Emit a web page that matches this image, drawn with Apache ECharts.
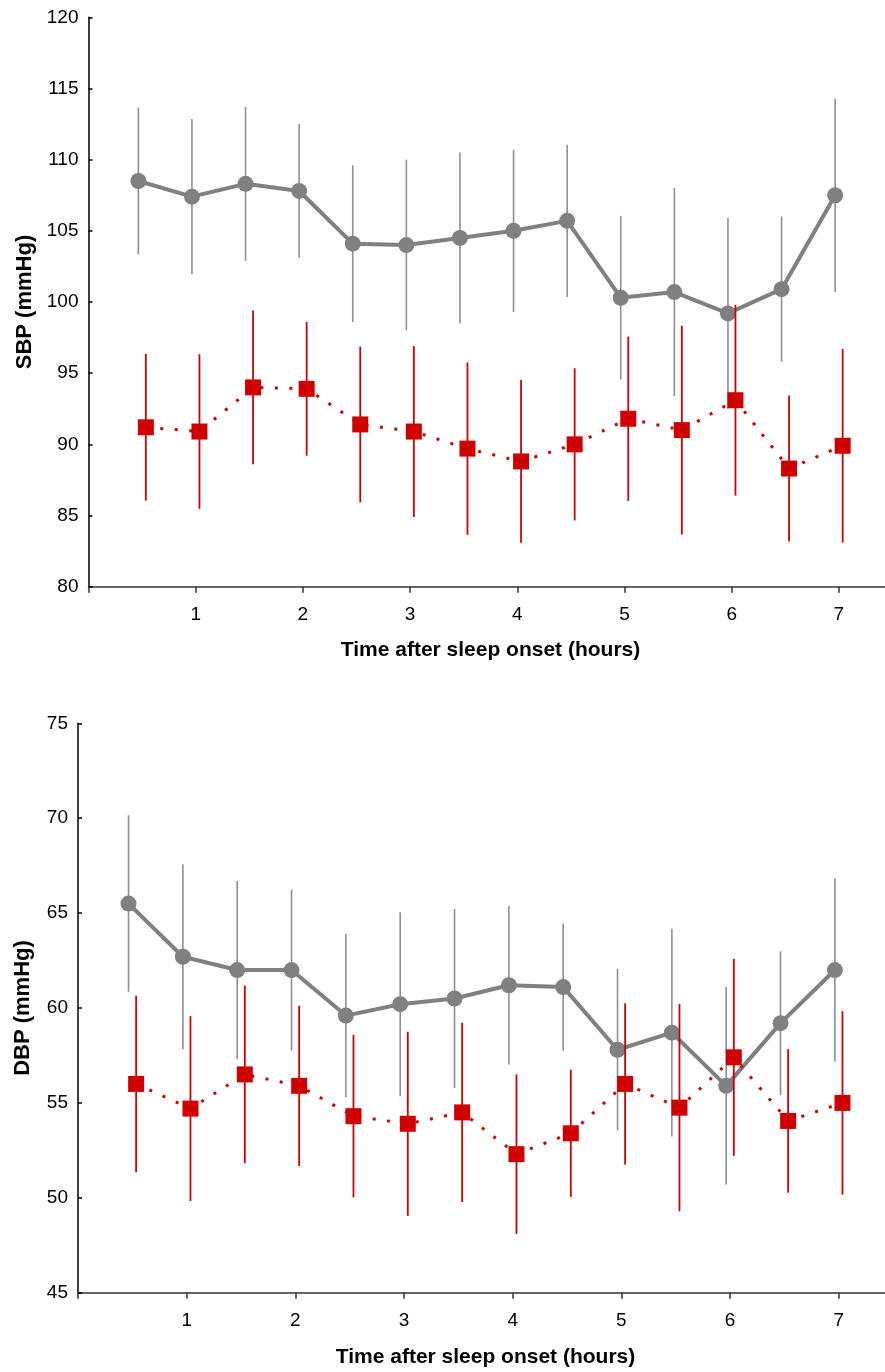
<!DOCTYPE html>
<html>
<head>
<meta charset="utf-8">
<title>SBP / DBP after sleep onset</title>
<script src="https://cdn.jsdelivr.net/npm/echarts@6/dist/echarts.min.js"></script>
<style>
    html, body { margin: 0; padding: 0; background: #fff; }
    #chart { width: 885px; height: 1372px; }
</style>
</head>
<body>
<div id="chart"></div>
<script>
// hours after sleep onset (half-hour steps)
var times = [0.5, 1, 1.5, 2, 2.5, 3, 3.5, 4, 4.5, 5, 5.5, 6, 6.5, 7];
var xTicks = [1, 2, 3, 4, 5, 6, 7];

// SBP panel
var sbpGray = [108.5, 107.4, 108.3, 107.8, 104.1, 104.0, 104.5, 105.0, 105.7, 100.3, 100.7, 99.2, 100.9, 107.5];
var sbpGrayErr = [5.15, 5.45, 5.4, 4.7, 5.5, 6.0, 6.0, 5.7, 5.35, 5.75, 7.3, 6.7, 5.1, 6.8];
var sbpRed = [91.2, 90.9, 94.0, 93.9, 91.4, 90.9, 89.7, 88.8, 90.0, 91.8, 91.0, 93.1, 88.3, 89.9];
var sbpRedErr = [5.15, 5.43, 5.4, 4.7, 5.47, 6.0, 6.05, 5.72, 5.35, 5.77, 7.33, 6.7, 5.13, 6.8];

// DBP panel
var dbpGray = [65.5, 62.7, 62.0, 62.0, 59.6, 60.2, 60.5, 61.2, 61.1, 57.8, 58.7, 55.9, 59.2, 62.0];
var dbpGrayErr = [4.65, 4.87, 4.69, 4.24, 4.3, 4.85, 4.72, 4.18, 3.35, 4.25, 5.47, 5.2, 3.79, 4.83];
var dbpRed = [56.0, 54.7, 56.5, 55.9, 54.3, 53.9, 54.5, 52.3, 53.4, 56.0, 54.75, 57.4, 54.05, 55.0];
var dbpRedErr = [4.65, 4.87, 4.68, 4.22, 4.28, 4.85, 4.72, 4.2, 3.35, 4.25, 5.46, 5.19, 3.78, 4.83];

var GRAY = '#808080';
var GRAY_BAR = '#8f8f8f';
var RED = '#d00000';
var SHIFT = 0.035; // the two groups are drawn a little apart around each time
var FONT = '"Liberation Sans", Arial, sans-serif';

function ready(fn) { document.addEventListener('DOMContentLoaded', fn); }

/**
 * 均值点 [x, y]
 */
function points(means, shift) {
    return means.map(function (v, i) { return [times[i] + shift, v]; });
}

/**
 * 误差线 [x, low, high]
 */
function bars(means, errs, shift) {
    return means.map(function (v, i) { return [times[i] + shift, v - errs[i], v + errs[i]]; });
}

/**
 * 误差线 custom series
 */
function errorSeries(idx, data, color, width, z) {
    return {
        type: 'custom',
        xAxisIndex: idx,
        yAxisIndex: idx,
        data: data,
        silent: true,
        z: z,
        renderItem: function (params, api) {
            var lo = api.coord([api.value(0), api.value(1)]);
            var hi = api.coord([api.value(0), api.value(2)]);
            return {
                type: 'line',
                shape: { x1: lo[0], y1: lo[1], x2: hi[0], y2: hi[1] },
                style: { stroke: color, lineWidth: width }
            };
        }
    };
}

function xAxis(idx) {
    return {
        type: 'value',
        gridIndex: idx,
        min: 0,
        max: 7.5,
        interval: 1,
        name: 'Time after sleep onset (hours)',
        nameLocation: 'middle',
        nameGap: idx === 0 ? 53 : 54,
        nameTextStyle: { fontFamily: FONT, fontSize: 21, fontWeight: 'bold', color: '#000' },
        axisLine: { lineStyle: { color: '#333', width: 1.5 } },
        axisTick: { inside: false, length: 6, lineStyle: { color: '#333', width: 1.5 } },
        axisLabel: {
            fontFamily: FONT, fontSize: 19, color: '#000', margin: 19,
            formatter: function (v) { return xTicks.indexOf(v) >= 0 ? String(v) : ''; }
        },
        splitLine: { show: false }
    };
}

function yAxis(idx, min, max, name, gap) {
    return {
        type: 'value',
        gridIndex: idx,
        min: min,
        max: max,
        interval: 5,
        name: name,
        nameLocation: 'middle',
        nameGap: gap,
        nameTextStyle: { fontFamily: FONT, fontSize: 22, fontWeight: 'bold', color: '#000' },
        axisLine: { show: true, lineStyle: { color: '#000', width: 1.5 } },
        axisTick: { show: true, inside: true, length: 4, lineStyle: { color: '#000', width: 1.5 } },
        axisLabel: { fontFamily: FONT, fontSize: 19, color: '#000', margin: 10 },
        splitLine: { show: false }
    };
}

function panelSeries(idx, grayMeans, grayErr, redMeans, redErr) {
    return [
        errorSeries(idx, bars(grayMeans, grayErr, -SHIFT), GRAY_BAR, 1.6, 1),
        {
            type: 'line',
            xAxisIndex: idx,
            yAxisIndex: idx,
            data: points(grayMeans, -SHIFT),
            symbol: 'circle',
            symbolSize: 16,
            z: 2,
            lineStyle: { color: GRAY, width: 4 },
            itemStyle: { color: GRAY },
            silent: true
        },
        errorSeries(idx, bars(redMeans, redErr, SHIFT), RED, 1.8, 3),
        {
            type: 'line',
            xAxisIndex: idx,
            yAxisIndex: idx,
            data: points(redMeans, SHIFT),
            symbol: 'rect',
            symbolSize: 16,
            z: 4,
            lineStyle: { color: RED, width: 3, type: [3, 11.5] },
            itemStyle: { color: RED },
            silent: true
        }
    ];
}

function initChart(id) {
    var chart = echarts.init(document.getElementById(id));
    var option = {
        animation: false,
        grid: [
            { left: 88.5, top: 17.3, width: 804, height: 569.4, outerBoundsMode: 'none', containLabel: false },
            { left: 78, top: 723.3, width: 815, height: 569.4, outerBoundsMode: 'none', containLabel: false }
        ],
        xAxis: [xAxis(0), xAxis(1)],
        yAxis: [yAxis(0, 80, 120, 'SBP (mmHg)', 53), yAxis(1, 45, 75, 'DBP (mmHg)', 44)],
        series: panelSeries(0, sbpGray, sbpGrayErr, sbpRed, sbpRedErr)
            .concat(panelSeries(1, dbpGray, dbpGrayErr, dbpRed, dbpRedErr))
    };
    chart.setOption(option);
}

ready(function () {
    initChart('chart');
});
</script>
</body>
</html>
